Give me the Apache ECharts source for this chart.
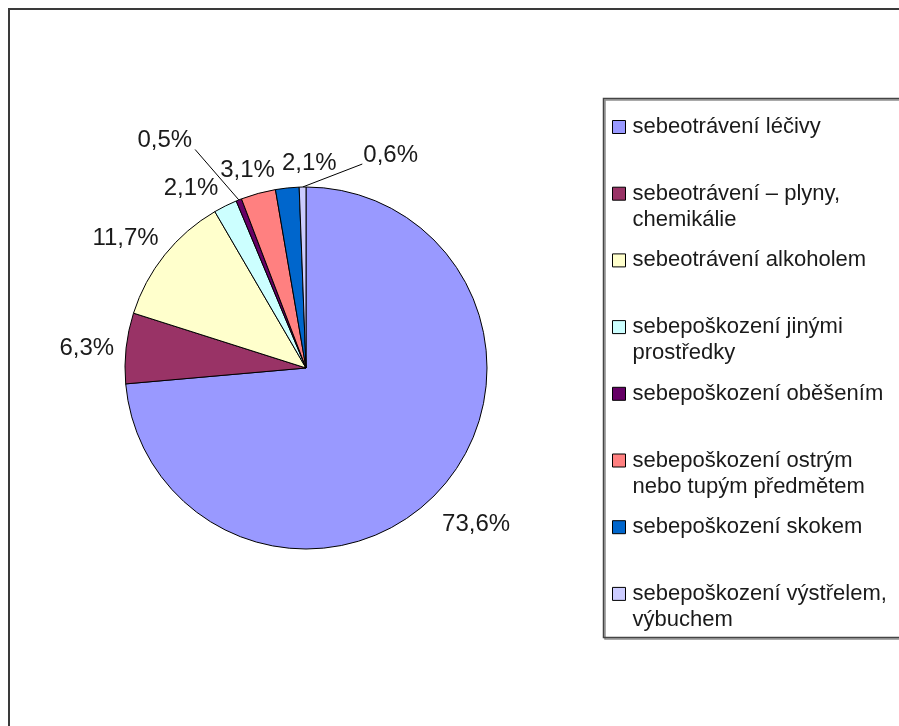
<!DOCTYPE html>
<html>
<head>
<meta charset="utf-8">
<script src="https://cdn.jsdelivr.net/npm/echarts@6/dist/echarts.min.js"></script>
<style>
  html, body { margin: 0; padding: 0; background: #ffffff; }
  #chart { width: 899px; height: 726px; }
</style>
</head>
<body>
<div id="chart"></div>
<script>
// ---- data ----
const categories = [
  'sebeotrávení léčivy',
  'sebeotrávení – plyny,\nchemikálie',
  'sebeotrávení alkoholem',
  'sebepoškození jinými\nprostředky',
  'sebepoškození oběšením',
  'sebepoškození ostrým\nnebo tupým předmětem',
  'sebepoškození skokem',
  'sebepoškození výstřelem,\nvýbuchem'
];
const values = [73.6, 6.3, 11.7, 2.1, 0.5, 3.1, 2.1, 0.6];
const colors = ['#9999FF', '#993366', '#FFFFCC', '#CCFFFF', '#660066', '#FF8080', '#0066CC', '#CCCCFF'];
const showLeader = [false, false, false, false, true, false, false, true];
// label placement (leader length / second segment) per slice
const labelLen  = [51, 1, 27, 20, 64, 24, 25, 32];
const labelLen2 = [-40, 6, -20, -7, 18, -28, -57, -121];

const chart = echarts.init(document.getElementById('chart'), null, { renderer: 'canvas' });

const pieData = values.map((v, i) => ({
  name: categories[i],
  value: v,
  itemStyle: { color: colors[i] },
  labelLine: { show: showLeader[i], length: labelLen[i], length2: labelLen2[i] }
}));

const option = {
  animation: false,
  backgroundColor: '#ffffff',
  graphic: [
    {
      type: 'rect',
      z: -1,
      shape: { x: 9, y: 9, width: 1000, height: 1000 },
      style: { fill: 'none', stroke: '#3a3a3a', lineWidth: 2 }
    },
    {
      type: 'rect',
      z: -1,
      shape: { x: 603.5, y: 98.5, width: 400, height: 539 },
      style: {
        fill: 'none', stroke: '#444444', lineWidth: 1.5,
        shadowColor: 'rgba(0,0,0,0.45)', shadowOffsetX: 1.5, shadowOffsetY: 1.5, shadowBlur: 0
      }
    }
  ],
  legend: {
    orient: 'vertical',
    left: 612,
    top: 88,
    padding: 0,
    itemGap: -11.3,
    itemWidth: 13,
    itemHeight: 13,
    icon: 'rect',
    selectedMode: false,
    itemStyle: { borderColor: '#000', borderWidth: 1 },
    data: categories,
    formatter: function (name) {
      return ' \n' + name + (name.indexOf('\n') >= 0 ? '' : '\n ');
    },
    textStyle: {
      fontFamily: 'Liberation Sans',
      fontSize: 22,
      lineHeight: 26,
      color: '#1a1a1a',
      padding: [0, 0, 0, 2]
    }
  },
  series: [{
    type: 'pie',
    center: [306, 368],
    radius: 181,
    startAngle: 90,
    clockwise: true,
    avoidLabelOverlap: false,
    silent: true,
    itemStyle: { borderColor: '#000', borderWidth: 1 },
    label: {
      show: true,
      position: 'outside',
      fontFamily: 'Liberation Sans',
      fontSize: 24,
      color: '#1a1a1a',
      formatter: function (p) {
        return p.value.toFixed(1).replace('.', ',') + '%';
      }
    },
    labelLine: {
      lineStyle: { color: '#000', width: 1 },
      smooth: false
    },
    labelLayout: function (params) {
      const i = params.dataIndex;
      if (!showLeader[i] || !params.labelLinePoints) return {};
      const pts = params.labelLinePoints;
      const r = params.labelRect;
      const p0 = pts[0];
      const endX = p0[0] > r.x + r.width ? r.x + r.width + 3 : r.x - 1;
      return { labelLinePoints: [p0, [endX, r.y + r.height - 3]] };
    },
    emphasis: { disabled: true },
    data: pieData
  }]
};

chart.setOption(option);
</script>
</body>
</html>
